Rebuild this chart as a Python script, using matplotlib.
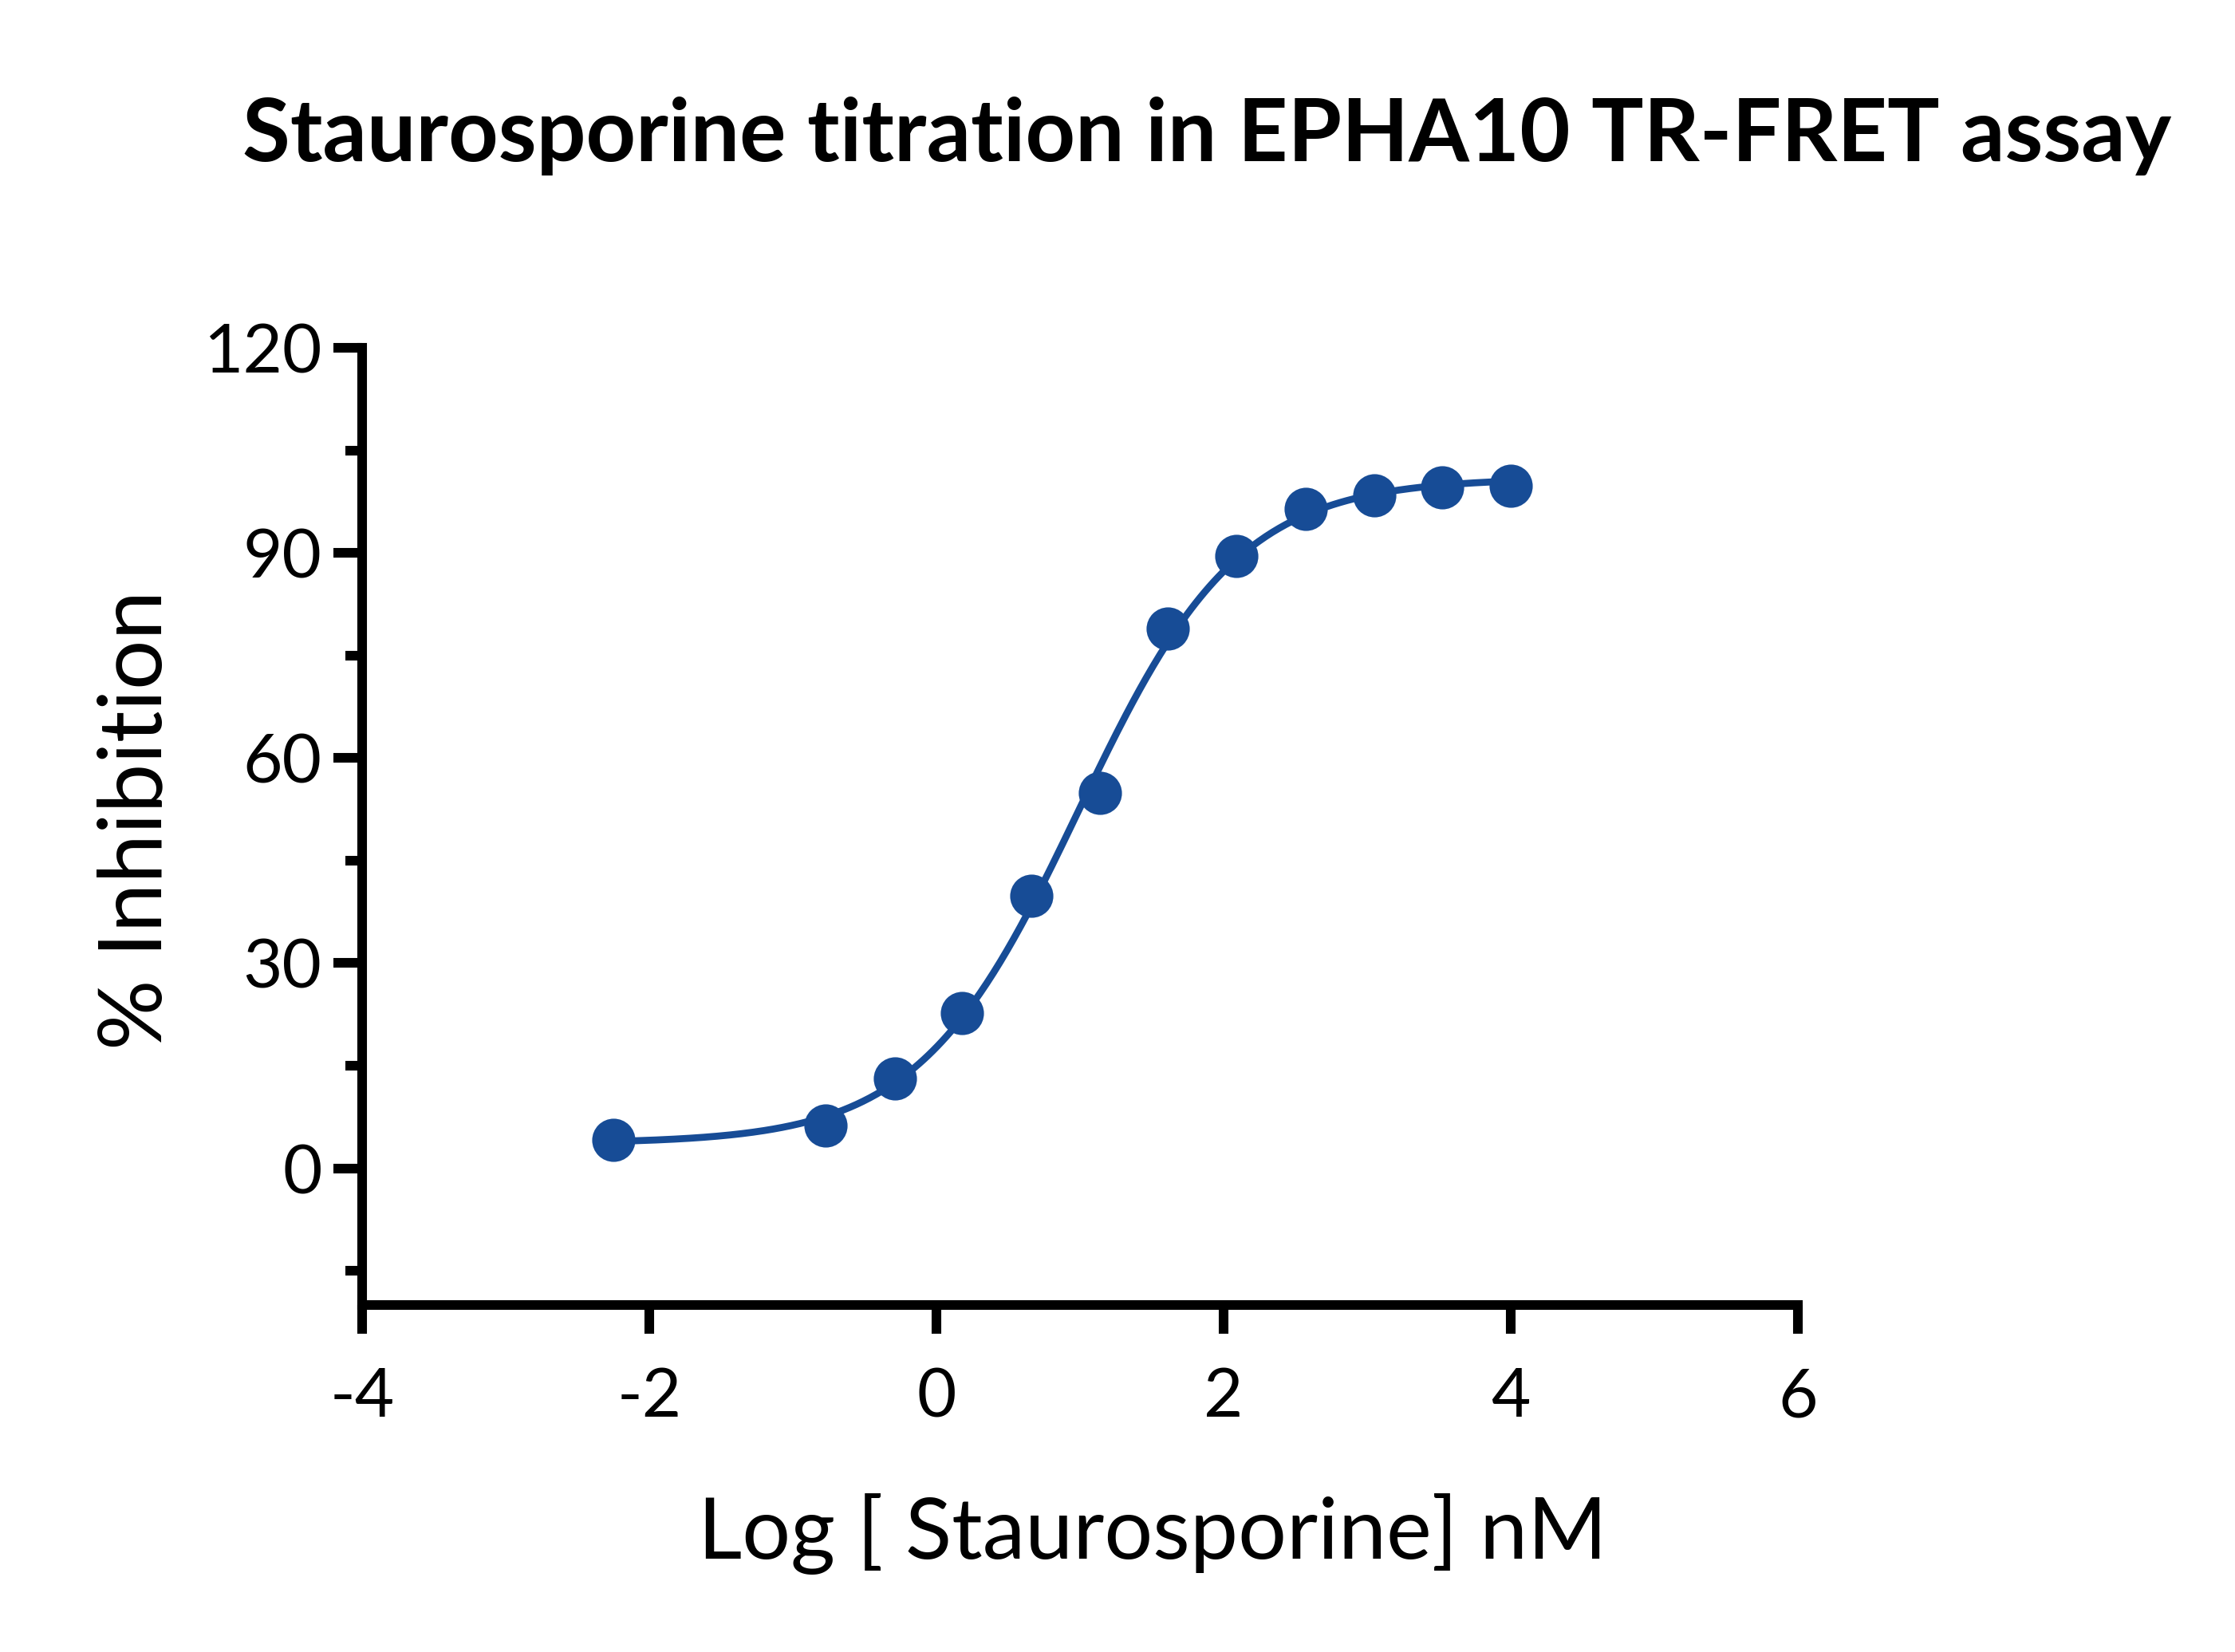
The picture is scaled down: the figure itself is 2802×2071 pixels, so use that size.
import numpy as np
import matplotlib
matplotlib.use('Agg')
import matplotlib.pyplot as plt
from matplotlib.ticker import MultipleLocator

plt.rcParams['font.family'] = ['Lato', 'DejaVu Sans']
plt.rcParams['axes.unicode_minus'] = False

# log10 of staurosporine concentration (nM) and % inhibition
log_conc = [-2.25, -0.77, -0.29, 0.18, 0.66, 1.14, 1.61, 2.09, 2.57, 3.05, 3.52, 4.00]
inhibition = [4.2, 6.3, 13.1, 22.7, 39.9, 54.9, 78.9, 89.5, 96.4, 98.4, 99.6, 99.8]

x_ticks = [-4, -2, 0, 2, 4, 6]
y_ticks = [0, 30, 60, 90, 120]

title = 'Staurosporine titration in EPHA10 TR-FRET assay'
xlabel = 'Log [ Staurosporine] nM'
ylabel = '% Inhibition'

blue = '#174C96'

x = np.array(log_conc)
y = np.array(inhibition)


# four parameter logistic fit to the points (grid over logIC50 / hill,
# bottom and top solved by least squares for every grid cell)
def fit_4pl(x, y):
    L = np.linspace(0.0, 2.0, 201)[:, None, None]
    H = np.linspace(0.5, 2.0, 151)[None, :, None]
    S = 1.0 / (1.0 + 10 ** ((L - x[None, None, :]) * H))
    A = 1.0 - S
    aa = (A * A).sum(-1)
    ab = (A * S).sum(-1)
    bb = (S * S).sum(-1)
    ay = (A * y).sum(-1)
    by = (S * y).sum(-1)
    det = aa * bb - ab * ab
    bot = (ay * bb - ab * by) / det
    top = (aa * by - ab * ay) / det
    res = ((bot[..., None] * A + top[..., None] * S - y) ** 2).sum(-1)
    i, j = np.unravel_index(np.argmin(res), res.shape)
    return bot[i, j], top[i, j], L[i, 0, 0], H[0, j, 0]


bottom, top, logic50, hill = fit_4pl(x, y)
xs = np.linspace(x.min(), x.max(), 400)
ys = bottom + (top - bottom) / (1 + 10 ** ((logic50 - xs) * hill))

fig = plt.figure(figsize=(2802 / 300, 2071 / 300), dpi=300)
ax = fig.add_axes([454 / 2802, 1 - 1636 / 2071, 1800 / 2802, 1200 / 2071])

ax.plot(xs, ys, color=blue, lw=2.1, zorder=2)
ax.plot(x, y, 'o', color=blue, ms=12, mec=blue, zorder=3, clip_on=False)

ax.set_xlim(-4, 6)
ax.set_ylim(-20, 120)
ax.set_xticks(x_ticks)
ax.set_xticklabels([str(t) for t in x_ticks])
ax.set_yticks(y_ticks)
ax.yaxis.set_minor_locator(MultipleLocator(15))

for side in ['top', 'right']:
    ax.spines[side].set_visible(False)
for side in ['left', 'bottom']:
    ax.spines[side].set_linewidth(2.9)
    ax.spines[side].set_capstyle('projecting')

ax.tick_params(which='major', length=8.6, width=2.9, labelsize=20.5, color='black')
ax.tick_params(axis='y', which='major', pad=3.5)
ax.tick_params(axis='x', which='major', pad=10)
ax.tick_params(which='minor', length=5, width=2.9)

ax.set_xlabel(xlabel, fontsize=25.8, va='baseline')
ax.xaxis.set_label_coords(0.5506, -0.265)
ax.set_ylabel(ylabel, fontsize=26.5, va='baseline')
ax.yaxis.set_label_coords(-0.14, 0.507)

fig.text(1513 / 2802, 1 - 202 / 2071, title, ha='center', va='baseline',
         fontsize=26.2, fontweight='bold')

fig.savefig('out.png', dpi=300)
